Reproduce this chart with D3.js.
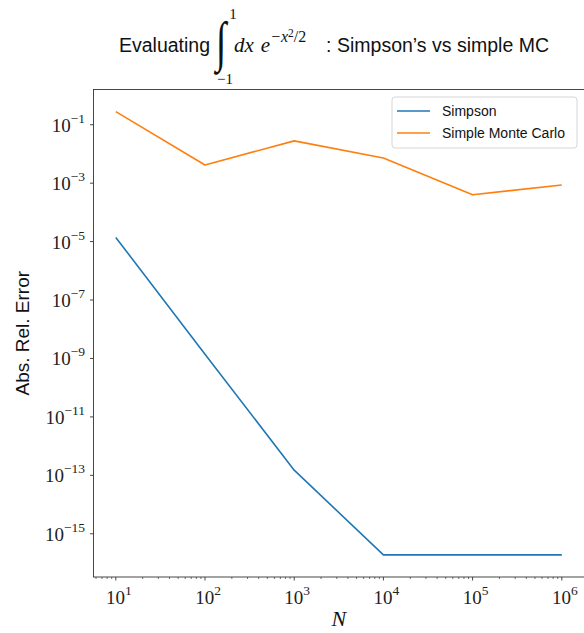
<!DOCTYPE html>
<html>
<head>
<meta charset="utf-8">
<script src="https://cdn.jsdelivr.net/npm/d3@7"></script>
<style>
  html, body { margin: 0; padding: 0; background: #fff; }
  svg { display: block; }
</style>
</head>
<body>
<svg id="chart" width="584" height="633"></svg>
<script>
// ---- data ----
const sampleN = [10, 100, 1000, 10000, 100000, 1000000];
const simpsonErr = [1.39e-5, 1.4e-9, 1.5e-13, 1.9e-16, 1.9e-16, 1.9e-16];
const mcErr = [0.28, 4.2e-3, 0.028, 7.3e-3, 4.0e-4, 8.7e-4];
const seriesNames = ["Simpson", "Simple Monte Carlo"];
const xTickExp = [1, 2, 3, 4, 5, 6];
const yTickExp = [-1, -3, -5, -7, -9, -11, -13, -15];

const W = 584, H = 633;
const plot = { left: 93.5, right: 584.1, top: 89.5, bottom: 577 };
const colors = ["#1f77b4", "#ff7f0e"];
const sans = "'Liberation Sans', Arial, sans-serif";
const serif = "'Liberation Serif', 'DejaVu Serif', serif";

const svg = d3.select("#chart");

// log-space 5% padding like matplotlib
function padLog(vals) {
  const l = vals.map(v => Math.log10(v));
  const lo = d3.min(l), hi = d3.max(l), p = (hi - lo) * 0.05;
  return [Math.pow(10, lo - p), Math.pow(10, hi + p)];
}
const x = d3.scaleLog().domain(padLog(sampleN)).range([plot.left, plot.right]);
const y = d3.scaleLog().domain(padLog(simpsonErr.concat(mcErr))).range([plot.bottom, plot.top]);

// lines
const series = [simpsonErr, mcErr];
const line = d3.line().x(d => x(d[0])).y(d => y(d[1]));
series.forEach((s, i) => {
  svg.append("path")
    .datum(sampleN.map((n, j) => [n, s[j]]))
    .attr("d", line)
    .attr("fill", "none")
    .attr("stroke", colors[i])
    .attr("stroke-width", 1.6)
    .attr("stroke-linejoin", "round");
});

// frame (right spine falls just outside the picture)
svg.append("rect")
  .attr("x", plot.left).attr("y", plot.top)
  .attr("width", plot.right + 1.5 - plot.left).attr("height", plot.bottom - plot.top)
  .attr("fill", "none").attr("stroke", "#333").attr("stroke-width", 0.9);

// x ticks (major + minor)
const xAxisG = svg.append("g");
const xMinor = [];
for (let e = 0; e <= 6; e++) for (let m = 2; m <= 9; m++) {
  const v = m * Math.pow(10, e);
  if (v >= x.domain()[0] && v <= x.domain()[1]) xMinor.push(v);
}
xAxisG.selectAll("line.minor").data(xMinor).enter().append("line")
  .attr("x1", d => x(d)).attr("x2", d => x(d))
  .attr("y1", plot.bottom).attr("y2", plot.bottom + 2)
  .attr("stroke", "#333").attr("stroke-width", 0.7);
xAxisG.selectAll("line.major").data(xTickExp).enter().append("line")
  .attr("x1", d => x(Math.pow(10, d))).attr("x2", d => x(Math.pow(10, d)))
  .attr("y1", plot.bottom).attr("y2", plot.bottom + 3.5)
  .attr("stroke", "#333").attr("stroke-width", 0.9);
xTickExp.forEach(e => {
  const t = xAxisG.append("text")
    .attr("x", x(Math.pow(10, e)) + 3).attr("y", 604)
    .attr("text-anchor", "middle")
    .attr("font-family", serif).attr("font-size", 19).attr("fill", "#222");
  t.append("tspan").text("10");
  t.append("tspan").attr("dy", -9).attr("font-size", 13.5).text(String(e));
});

// y ticks
const yAxisG = svg.append("g");
yAxisG.selectAll("line").data(yTickExp).enter().append("line")
  .attr("x1", plot.left - 3.5).attr("x2", plot.left)
  .attr("y1", d => y(Math.pow(10, d))).attr("y2", d => y(Math.pow(10, d)))
  .attr("stroke", "#333").attr("stroke-width", 0.9);
yTickExp.forEach(e => {
  const t = yAxisG.append("text")
    .attr("x", 85).attr("y", y(Math.pow(10, e)) + 7)
    .attr("text-anchor", "end")
    .attr("font-family", serif).attr("font-size", 19).attr("fill", "#222");
  t.append("tspan").text("10");
  t.append("tspan").attr("dy", -9).attr("font-size", 13.5).text("\u2212" + Math.abs(e));
});

// axis labels
svg.append("text")
  .attr("transform", `translate(29,${(plot.top + plot.bottom) / 2}) rotate(-90)`)
  .attr("text-anchor", "middle")
  .attr("font-family", sans).attr("font-size", 19).attr("fill", "#111")
  .text("Abs. Rel. Error");
svg.append("text")
  .attr("x", (plot.left + plot.right) / 2).attr("y", 626)
  .attr("text-anchor", "middle")
  .attr("font-family", serif).attr("font-style", "italic").attr("font-size", 22).attr("fill", "#111")
  .text("N");

// title
const tg = svg.append("g");
const base = 52;
tg.append("text").attr("x", 119).attr("y", base)
  .attr("font-family", sans).attr("font-size", 19.5).attr("fill", "#111")
  .text("Evaluating");
tg.append("text").attr("x", 0).attr("y", 0)
  .attr("transform", `translate(216,${base + 8}) scale(1,1.45)`)
  .attr("font-family", serif).attr("font-size", 38).attr("fill", "#111")
  .text("\u222B");
tg.append("text").attr("x", 233).attr("y", 19)
  .attr("text-anchor", "middle")
  .attr("font-family", serif).attr("font-size", 15).attr("fill", "#111").text("1");
tg.append("text").attr("x", 225).attr("y", 84)
  .attr("text-anchor", "middle")
  .attr("font-family", serif).attr("font-size", 15).attr("fill", "#111").text("\u22121");
const mt = tg.append("text").attr("x", 234).attr("y", base)
  .attr("font-family", serif).attr("font-style", "italic").attr("font-size", 21).attr("fill", "#111");
mt.append("tspan").text("dx");
mt.append("tspan").attr("dx", 7).text("e");
mt.append("tspan").attr("dy", -10).attr("font-size", 16).text("\u2212x");
mt.append("tspan").attr("dy", -5).attr("font-size", 11.5).attr("font-style", "normal").text("2");
mt.append("tspan").attr("dy", 5).attr("font-size", 16).attr("font-style", "normal").text("/2");
tg.append("text").attr("x", 326).attr("y", base)
  .attr("font-family", sans).attr("font-size", 19.5).attr("fill", "#111")
  .text(":");
tg.append("text").attr("x", 337).attr("y", base)
  .attr("font-family", sans).attr("font-size", 19.5).attr("fill", "#111")
  .text("Simpson\u2019s vs simple MC");

// legend
const lg = svg.append("g");
lg.append("rect").attr("x", 392).attr("y", 97).attr("width", 185).attr("height", 51)
  .attr("rx", 3).attr("fill", "#fff").attr("fill-opacity", 0.8)
  .attr("stroke", "#d6d6d6").attr("stroke-width", 1);
seriesNames.forEach((name, i) => {
  const yy = 111 + i * 22;
  lg.append("line").attr("x1", 397).attr("x2", 430).attr("y1", yy).attr("y2", yy)
    .attr("stroke", colors[i]).attr("stroke-width", 1.6);
  lg.append("text").attr("x", 442).attr("y", yy + 5)
    .attr("font-family", sans).attr("font-size", 14).attr("fill", "#111")
    .text(name);
});
</script>
</body>
</html>
